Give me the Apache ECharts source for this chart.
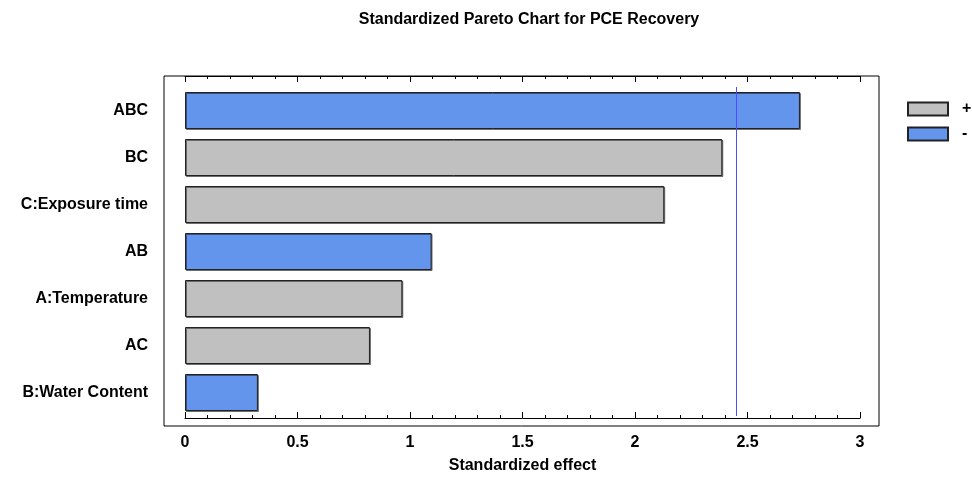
<!DOCTYPE html>
<html>
<head>
<meta charset="utf-8">
<script src="https://cdn.jsdelivr.net/npm/echarts@6/dist/echarts.min.js"></script>
<style>html,body{margin:0;padding:0;background:#fff}#c{width:972px;height:479px}</style>
</head>
<body>
<div id="c"></div>
<script>
var categories = ['ABC', 'BC', 'C:Exposure time', 'AB', 'A:Temperature', 'AC', 'B:Water Content'];
var effects = [2.733, 2.388, 2.130, 1.096, 0.966, 0.822, 0.324];
var signs = ['-', '+', '+', '-', '+', '+', '-'];
var xTicks = [0, 0.5, 1, 1.5, 2, 2.5, 3];
var criticalValue = 2.447;

var FONT = '"Liberation Sans", Arial, sans-serif';
var plusData = effects.map(function (v, i) { return signs[i] === '+' ? v : '-'; });
var minusData = effects.map(function (v, i) { return signs[i] === '-' ? v : '-'; });

var chart = echarts.init(document.getElementById('c'), null, { renderer: 'canvas' });
var barStyleCommon = { borderColor: '#222', borderWidth: 1, shadowColor: 'rgba(0,0,0,0.45)', shadowOffsetX: 1, shadowOffsetY: 1, shadowBlur: 0 };

function tickAxis(pos) {
  return {
    type: 'value', gridIndex: 2, min: 0, max: 3, interval: 0.5, position: pos,
    axisLine: { show: true, lineStyle: { color: '#000', width: 1 } },
    axisTick: { show: true, inside: true, length: 6, lineStyle: { color: '#000' } },
    minorTick: { show: true, splitNumber: 5, length: 3, lineStyle: { color: '#000' } },
    splitLine: { show: false }
  };
}
var bottomAxis = tickAxis('bottom');
bottomAxis.axisLabel = { margin: 17, fontFamily: FONT, fontSize: 16, fontWeight: 'bold', color: '#000',
  formatter: function (v) { return xTicks.indexOf(v) >= 0 ? String(v) : ''; } };
bottomAxis.name = 'Standardized effect';
bottomAxis.nameLocation = 'middle';
bottomAxis.nameGap = 40;
bottomAxis.nameTextStyle = { fontFamily: FONT, fontSize: 16, fontWeight: 'bold', color: '#000' };
var topAxis = tickAxis('top');
topAxis.axisLabel = { show: false };

chart.setOption({
  animation: false,
  backgroundColor: '#fff',
  title: {
    text: 'Standardized Pareto Chart for PCE Recovery',
    left: 524, top: 7, textAlign: 'center',
    textStyle: { fontFamily: FONT, fontSize: 16, fontWeight: 'bold', color: '#000' }
  },
  legend: {
    orient: 'vertical', left: 902, top: 96,
    itemWidth: 40, itemHeight: 13, itemGap: 9,
    icon: 'rect',
    data: ['+', '-'],
    textStyle: { fontFamily: FONT, fontSize: 16, fontWeight: 'bold', color: '#000', padding: [0, 0, 0, 9] }
  },
  grid: [
    { left: 164, right: 93, top: 76, bottom: 53, show: true, borderColor: '#000', borderWidth: 1, backgroundColor: 'transparent' },
    { left: 185, right: 112, top: 87, bottom: 63 },
    { left: 185, right: 112, top: 76, bottom: 53 }
  ],
  xAxis: [
    { type: 'value', gridIndex: 1, min: 0, max: 3, show: false },
    bottomAxis,
    topAxis
  ],
  yAxis: [
    {
      type: 'category', gridIndex: 1, data: categories, inverse: true,
      axisLine: { show: false }, axisTick: { show: false }, splitLine: { show: false },
      axisLabel: { margin: 37, fontFamily: FONT, fontSize: 16, fontWeight: 'bold', color: '#000' }
    },
    { type: 'value', gridIndex: 2, show: false, min: 0, max: 1 }
  ],
  series: [
    {
      name: '+', type: 'bar', xAxisIndex: 0, yAxisIndex: 0, stack: 'eff', barWidth: 37,
      data: plusData,
      itemStyle: Object.assign({ color: '#c0c0c0' }, barStyleCommon)
    },
    {
      name: '-', type: 'bar', xAxisIndex: 0, yAxisIndex: 0, stack: 'eff', barWidth: 37,
      data: minusData,
      itemStyle: Object.assign({ color: '#6495ed' }, barStyleCommon),
      markLine: {
        silent: true, symbol: ['none', 'none'],
        label: { show: false },
        lineStyle: { color: '#4d4dff', width: 1, type: 'solid' },
        data: [{ xAxis: criticalValue }]
      }
    }
  ]
});
</script>
</body>
</html>
